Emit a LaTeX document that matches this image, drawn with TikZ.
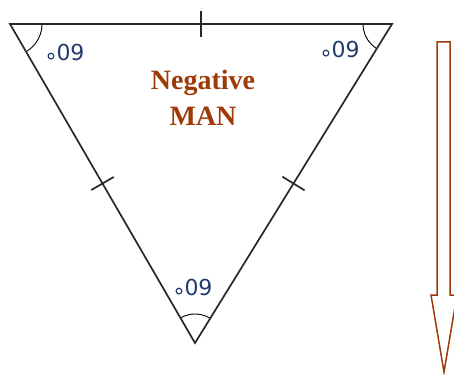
\documentclass[tikz,border=0pt]{standalone}
\usepackage{fontspec}
\setmainfont{Liberation Serif}
\newfontfamily\labfont{DejaVu Sans}
\usetikzlibrary{calc}
\definecolor{brownA}{RGB}{158,58,8}
\definecolor{labblue}{RGB}{35,60,110}
\definecolor{sidegray}{RGB}{40,40,40}
\begin{document}
\begin{tikzpicture}[x=1pt,y=-1pt,
  side/.style={draw=sidegray,line width=1.7pt},
  tickmark/.style={draw=sidegray,line width=1.7pt},
  anglearc/.style={draw=black,line width=0.9pt},
  anglelab/.style={font=\labfont\fontsize{22}{22}\selectfont,text=labblue,inner sep=0pt},
  title/.style={font=\bfseries\fontsize{28}{30}\selectfont,text=brownA,inner sep=0pt,anchor=base},
  bigarrow/.style={draw=brownA,fill=white,line width=1.5pt,line join=miter}]
\useasboundingbox (0,0) rectangle (454,374);
\fill[white] (0,0) rectangle (454,374);
\coordinate (A) at (10,24);
\coordinate (B) at (392,24);
\coordinate (C) at (195,343);
% angle arcs
\begin{scope}
  \clip (A) -- (B) -- (C) -- cycle;
  \draw[anglearc] (A) circle (32pt);
  \draw[anglearc] (B) circle (29pt);
  \draw[anglearc] (C) circle (29pt);
\end{scope}
\draw[side] (A) -- (B) -- (C) -- cycle;
% tick marks
\coordinate (mAB) at ($(A)!0.5!(B)$);
\coordinate (mBC) at ($(B)!0.5!(C)$);
\coordinate (mCA) at ($(C)!0.5!(A)$);
\draw[tickmark] ($(mAB)!13pt!90:(B)$) -- ($(mAB)!13pt!-90:(B)$);
\draw[tickmark] ($(mBC)!13pt!90:(C)$) -- ($(mBC)!13pt!-90:(C)$);
\draw[tickmark] ($(mCA)!13pt!90:(A)$) -- ($(mCA)!13pt!-90:(A)$);
% angle labels
\node[anglelab] (la) at (65,57) {\raisebox{-0.42em}{°}09};
\node[anglelab] (lb) at (340,54) {\raisebox{-0.42em}{°}09};
\node[anglelab] (lc) at (193,292) {\raisebox{-0.42em}{°}09};
% title
\node[title] (t1) at (203,90) {Negative};
\node[title] (t2) at (203,126) {MAN};
% arrow
\draw[bigarrow] (437,42) -- (450,42) -- (450,295) -- (457,295) -- (444,372) -- (431,295) -- (437,295) -- cycle;
\end{tikzpicture}
\end{document}
